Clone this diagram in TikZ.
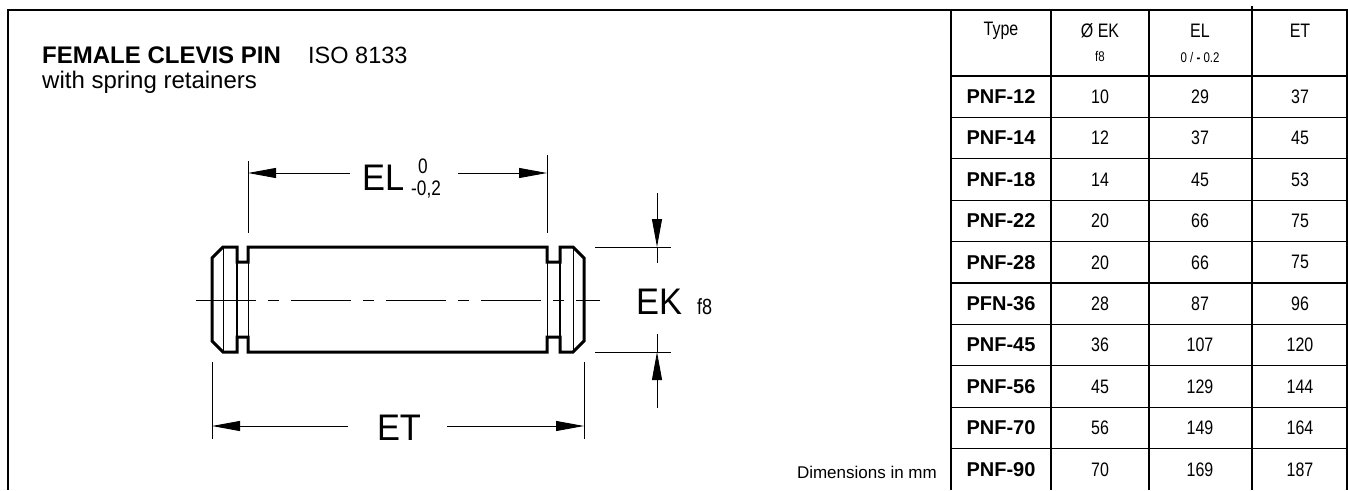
\documentclass[tikz,border=0pt]{standalone}
\usepackage{fontspec}
\setmainfont{Liberation Sans}
\newfontfamily\narrowsf[FakeStretch=0.82]{Liberation Sans}
\newfontfamily\dimsf[FakeStretch=0.93]{Liberation Sans}
\usetikzlibrary{arrows.meta}

\begin{document}
\begin{tikzpicture}
  [x=1pt,y=-1pt,every node/.style={inner sep=0pt}]
  \tikzstyle{outline} = [line width=3pt,line join=miter]
  \tikzstyle{pinline} = [line width=1pt]
  \tikzstyle{groove} = [line width=1.8pt]
  \tikzstyle{extline} = [line width=0.9pt]
  \tikzstyle{dimline} = [line width=0.9pt,-{Triangle[length=28pt,width=10pt]}]
  \tikzstyle{axis} = [line width=0.9pt,dash pattern=on 60pt off 12pt on 11pt off 12pt]
  \tikzstyle{dimtext} = [anchor=base west,font=\dimsf\fontsize{37}{37}\selectfont]
  \tikzstyle{toltext} = [anchor=base west,font=\narrowsf\fontsize{21}{21}\selectfont]
  \tikzstyle{cell} = [font=\narrowsf\fontsize{19.5}{19.5}\selectfont]
  \tikzstyle{small} = [font=\narrowsf\fontsize{14}{14}\selectfont]
  \tikzstyle{typecell} = [font=\bfseries\fontsize{20}{20}\selectfont]
  \tikzstyle{grid} = [line width=1.2pt]

  \useasboundingbox (0,0) rectangle (1348,490);

  % frame
  \draw[grid] (8,490) -- (8,10) -- (1348,10);

  % title
  \node[anchor=base west,font=\bfseries\fontsize{24}{24}\selectfont] (title) at (42,63) {FEMALE CLEVIS PIN};
  \node[anchor=base west,font=\fontsize{23.5}{24}\selectfont] (iso) at (308,63) {ISO 8133};
  \node[anchor=base west,font=\fontsize{24}{24}\selectfont] (subtitle) at (42,88) {with spring retainers};

  % pin
  \draw[outline] (212,258) -- (223,247) -- (237,247) -- (237,262) -- (248,262) -- (248,247)
    -- (547,247) -- (547,262) -- (560,262) -- (560,247) -- (573,247) -- (584,258)
    -- (584,341) -- (573,352) -- (560,352) -- (560,337) -- (547,337) -- (547,352)
    -- (248,352) -- (248,337) -- (237,337) -- (237,352) -- (223,352) -- (212,341) -- cycle;
  \draw[pinline] (223,247) -- (223,352);
  \draw[pinline] (573,247) -- (573,352);
  \draw[pinline] (248,262) -- (248,337);
  \draw[pinline] (547,262) -- (547,337);
  \draw[groove] (237,262) -- (237,337);
  \draw[groove] (560,262) -- (560,337);

  \coordinate (cl1) at (196,300);
  \coordinate (cl2) at (600,300);
  \draw[axis] (cl1) -- (cl2);

  % EL
  \coordinate (elL) at (248,173);
  \coordinate (elR) at (547,173);
  \coordinate (elL1) at (350,173);
  \coordinate (elR1) at (458,173);
  \draw[extline] (248,161) -- (248,233);
  \draw[extline] (547,155) -- (547,233);
  \draw[dimline] (elL1) -- (elL);
  \draw[dimline] (elR1) -- (elR);
  \node[dimtext] (el) at (362,190) {EL};
  \node[toltext] (elup) at (418,173) {0};
  \node[toltext] (eldn) at (411,195) {-0,2};

  % EK
  \coordinate (ekT) at (657,247);
  \coordinate (ekB) at (657,352);
  \coordinate (ekT0) at (657,193);
  \coordinate (ekT1) at (657,263);
  \coordinate (ekB0) at (657,408);
  \coordinate (ekB1) at (657,334);
  \draw[extline] (595,247) -- (671,247);
  \draw[extline] (595,352) -- (671,352);
  \draw[dimline] (ekT0) -- (ekT);
  \draw[extline] (ekT) -- (ekT1);
  \draw[dimline] (ekB0) -- (ekB);
  \draw[extline] (ekB) -- (ekB1);
  \node[dimtext] (ek) at (636,314) {EK};
  \node[anchor=base west,font=\narrowsf\fontsize{22}{22}\selectfont] (ekfit) at (697,314) {f8};

  % ET
  \coordinate (etL) at (212,426);
  \coordinate (etR) at (584,426);
  \coordinate (etL1) at (348,426);
  \coordinate (etR1) at (447,426);
  \draw[extline] (212,362) -- (212,439);
  \draw[extline] (584,362) -- (584,439);
  \draw[dimline] (etL1) -- (etL);
  \draw[dimline] (etR1) -- (etR);
  \node[dimtext,anchor=base] (et) at (399,440) {ET};

  \node[anchor=base east,font=\fontsize{17}{17}\selectfont] (units) at (937,478) {Dimensions in mm};

  % table
  \foreach \x in {951,1051,1149,1252,1347}
    \draw[grid] (\x,10) -- (\x,490);
  \draw[grid] (1252,6) -- (1252,10);
  \foreach \k in {0,...,9}
    \draw[grid] (951,{76+\k*41.4}) -- (1347,{76+\k*41.4});

  \node[cell] (hType) at (1001,31) {Type};
  \node[cell] (hEK) at (1100,31) {Ø EK};
  \node[cell] (hEL) at (1200,31) {EL};
  \node[cell] (hET) at (1300,31) {ET};
  \node[small] (hEKtol) at (1100,57) {f8};
  \node[small] (hELtol) at (1200,57) {0 / {\bfseries -} 0.2};

  \foreach \i/\type/\ek/\el/\et in {1/PNF-12/10/29/37,2/PNF-14/12/37/45,3/PNF-18/14/45/53,
      4/PNF-22/20/66/75,5/PNF-28/20/66/75,6/PFN-36/28/87/96,7/PNF-45/36/107/120,
      8/PNF-56/45/129/144,9/PNF-70/56/149/164,10/PNF-90/70/169/187}{
    \node[typecell] (type\i) at (1001,{76+(\i-0.5)*41.4}) {\type};
    \node[cell] (ek\i) at (1100,{76+(\i-0.5)*41.4}) {\ek};
    \node[cell] (el\i) at (1200,{76+(\i-0.5)*41.4}) {\el};
    \node[cell] (et\i) at (1300,{76+(\i-0.5)*41.4}) {\et};
  }
\end{tikzpicture}
\end{document}
